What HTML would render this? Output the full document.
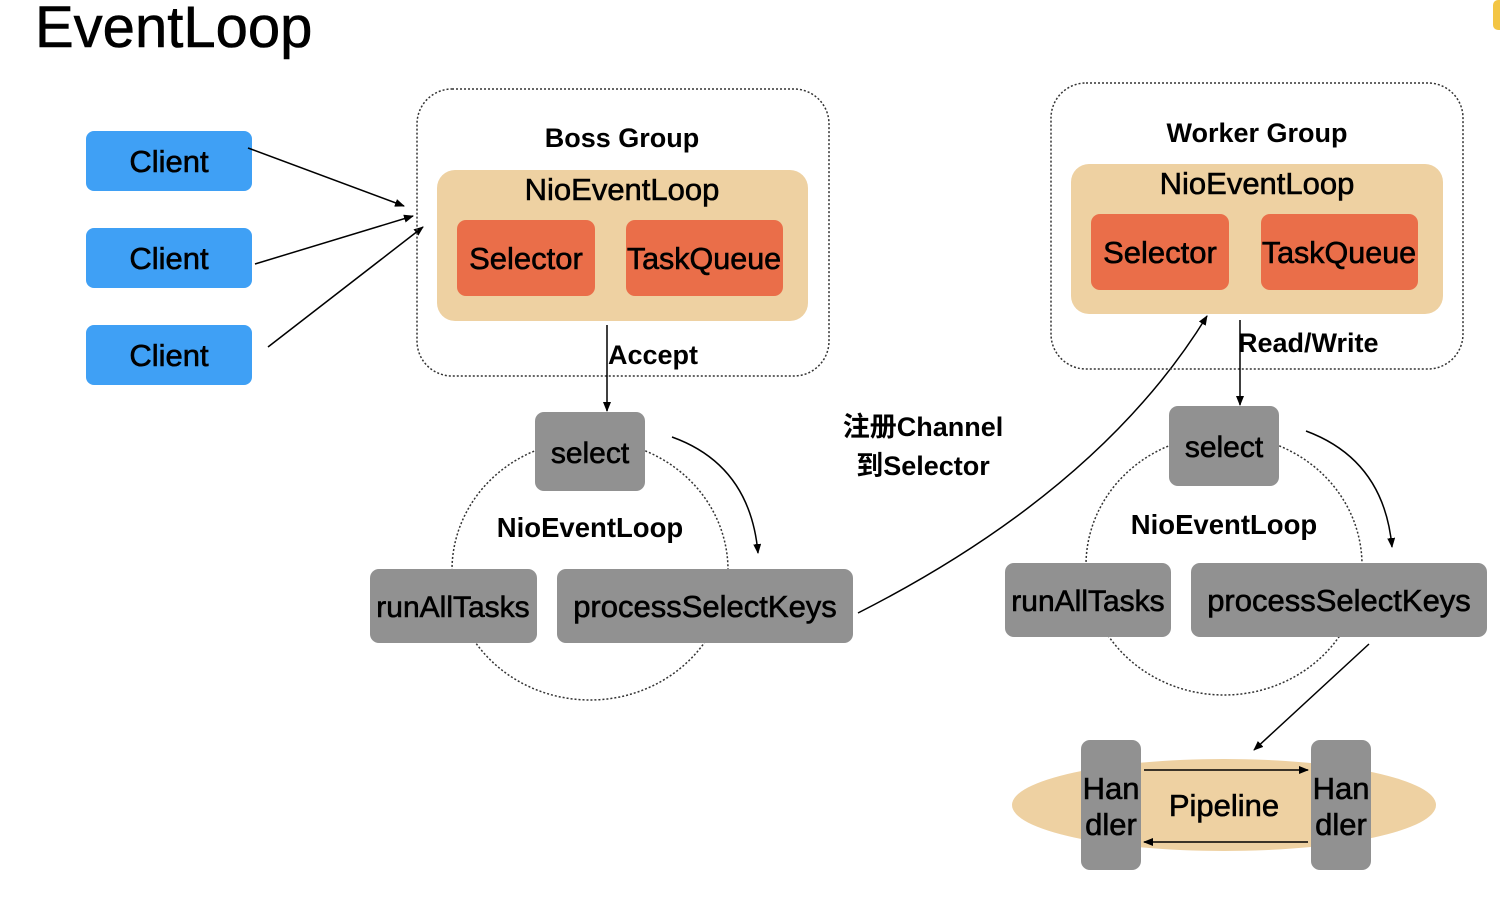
<!DOCTYPE html>
<html><head><meta charset="utf-8"><style>
html,body{margin:0;padding:0;background:#fff;}
svg{display:block;}
text{font-family:"Liberation Sans","Noto Sans CJK SC",sans-serif;}
.m{stroke:#000;stroke-width:0.6;}
</style></head><body>
<svg width="1500" height="902" viewBox="0 0 1500 902" xmlns="http://www.w3.org/2000/svg">
<defs>
<marker id="a" markerWidth="10" markerHeight="8" refX="9" refY="4" orient="auto" markerUnits="userSpaceOnUse"><path d="M0,0 L10,4 L0,8 z" fill="#000"/></marker>
</defs>
<rect x="1493" y="0" width="12" height="30" rx="5" fill="#f3c544"/>
<text x="35" y="47" font-size="58" class="m">EventLoop</text>

<g fill="#3fa0f5">
<rect x="86" y="131" width="166" height="60" rx="8"/>
<rect x="86" y="228" width="166" height="60" rx="8"/>
<rect x="86" y="325" width="166" height="60" rx="8"/>
</g>
<g font-size="31" text-anchor="middle" fill="#000" class="m">
<text x="169" y="172">Client</text><text x="169" y="269">Client</text><text x="169" y="366">Client</text>
</g>
<g stroke="#000" stroke-width="1.5" fill="none" marker-end="url(#a)">
<line x1="248" y1="148" x2="404" y2="206"/>
<line x1="255" y1="264" x2="413" y2="216"/>
<line x1="268" y1="347" x2="423" y2="227"/>
</g>

<!-- Boss group -->
<rect x="417" y="89" width="412" height="287" rx="35" fill="none" stroke="#333" stroke-width="1.5" stroke-dasharray="2,2"/>
<text x="622" y="147" font-size="27" font-weight="bold" text-anchor="middle">Boss Group</text>
<rect x="437" y="170" width="371" height="151" rx="18" fill="#eed1a2"/>
<text x="622" y="200" font-size="31" text-anchor="middle" class="m">NioEventLoop</text>
<rect x="457" y="220" width="138" height="76" rx="9" fill="#ea6e49"/>
<rect x="626" y="220" width="157" height="76" rx="9" fill="#ea6e49"/>
<text x="526" y="269" font-size="31" text-anchor="middle" class="m">Selector</text>
<text x="704" y="269" font-size="30.5" text-anchor="middle" class="m">TaskQueue</text>
<line x1="607" y1="325" x2="607" y2="411" stroke="#000" stroke-width="1.5" marker-end="url(#a)"/>
<text x="608" y="364" font-size="27" font-weight="bold">Accept</text>

<ellipse cx="590" cy="570" rx="138" ry="130" fill="none" stroke="#333" stroke-width="1.5" stroke-dasharray="2,2"/>
<rect x="535" y="412" width="110" height="79" rx="9" fill="#919191"/>
<text x="590" y="463" font-size="30" text-anchor="middle" class="m">select</text>
<text x="590" y="537" font-size="27.5" font-weight="bold" text-anchor="middle">NioEventLoop</text>
<rect x="370" y="569" width="167" height="74" rx="9" fill="#919191"/>
<rect x="557" y="569" width="296" height="74" rx="9" fill="#919191"/>
<text x="453" y="617" font-size="30" text-anchor="middle" class="m">runAllTasks</text>
<text x="705" y="617" font-size="31" text-anchor="middle" class="m">processSelectKeys</text>
<path d="M672,437 Q750,465 758,553" stroke="#000" stroke-width="1.5" fill="none" marker-end="url(#a)"/>

<text x="923" y="436" font-size="27" font-weight="bold" text-anchor="middle">注册Channel</text>
<text x="923" y="475" font-size="27" font-weight="bold" text-anchor="middle">到Selector</text>
<path d="M858,613 Q1100,490 1207,316" stroke="#000" stroke-width="1.5" fill="none" marker-end="url(#a)"/>

<!-- Worker group -->
<rect x="1051" y="83" width="412" height="286" rx="35" fill="none" stroke="#333" stroke-width="1.5" stroke-dasharray="2,2"/>
<text x="1257" y="142" font-size="27" font-weight="bold" text-anchor="middle">Worker Group</text>
<rect x="1071" y="164" width="372" height="150" rx="18" fill="#eed1a2"/>
<text x="1257" y="194" font-size="31" text-anchor="middle" class="m">NioEventLoop</text>
<rect x="1091" y="214" width="138" height="76" rx="9" fill="#ea6e49"/>
<rect x="1261" y="214" width="157" height="76" rx="9" fill="#ea6e49"/>
<text x="1160" y="263" font-size="31" text-anchor="middle" class="m">Selector</text>
<text x="1339" y="263" font-size="30.5" text-anchor="middle" class="m">TaskQueue</text>
<line x1="1240" y1="320" x2="1240" y2="405" stroke="#000" stroke-width="1.5" marker-end="url(#a)"/>
<text x="1238" y="352" font-size="27" font-weight="bold">Read/Write</text>

<ellipse cx="1224" cy="565" rx="138" ry="130" fill="none" stroke="#333" stroke-width="1.5" stroke-dasharray="2,2"/>
<rect x="1169" y="406" width="110" height="80" rx="9" fill="#919191"/>
<text x="1224" y="457" font-size="30" text-anchor="middle" class="m">select</text>
<text x="1224" y="534" font-size="27.5" font-weight="bold" text-anchor="middle">NioEventLoop</text>
<rect x="1005" y="563" width="166" height="74" rx="9" fill="#919191"/>
<rect x="1191" y="563" width="296" height="74" rx="9" fill="#919191"/>
<text x="1088" y="611" font-size="30" text-anchor="middle" class="m">runAllTasks</text>
<text x="1339" y="611" font-size="31" text-anchor="middle" class="m">processSelectKeys</text>
<path d="M1306,431 Q1384,460 1392,547" stroke="#000" stroke-width="1.5" fill="none" marker-end="url(#a)"/>
<line x1="1369" y1="644" x2="1254" y2="750" stroke="#000" stroke-width="1.5" marker-end="url(#a)"/>

<!-- Pipeline -->
<ellipse cx="1224" cy="805" rx="212" ry="46" fill="#eed1a2"/>
<rect x="1081" y="740" width="60" height="130" rx="9" fill="#919191"/>
<rect x="1311" y="740" width="60" height="130" rx="9" fill="#919191"/>
<g font-size="31" text-anchor="middle" class="m">
<text x="1111" y="799">Han</text><text x="1111" y="835">dler</text>
<text x="1341" y="799">Han</text><text x="1341" y="835">dler</text>
<text x="1224" y="816">Pipeline</text>
</g>
<line x1="1144" y1="770" x2="1308" y2="770" stroke="#000" stroke-width="1.5" marker-end="url(#a)"/>
<line x1="1308" y1="842" x2="1144" y2="842" stroke="#000" stroke-width="1.5" marker-end="url(#a)"/>
</svg>
</body></html>
